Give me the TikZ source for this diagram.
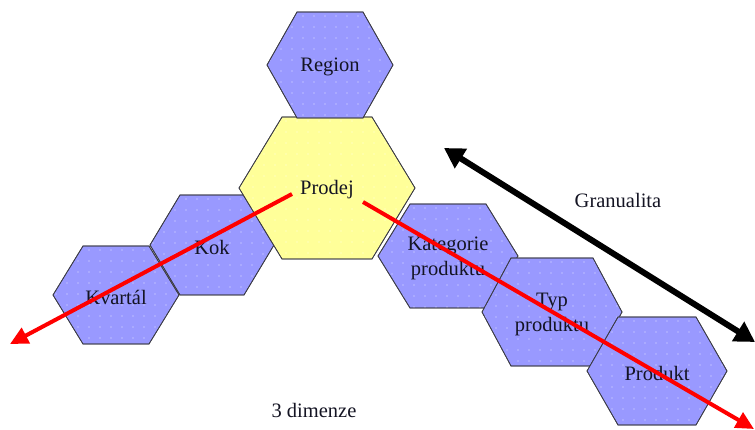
\documentclass[tikz,border=0pt]{standalone}
\usepackage{fontspec}
\setmainfont{Liberation Serif}
\usetikzlibrary{arrows.meta}
\definecolor{hexblue}{RGB}{153,153,255}
\definecolor{hexyellow}{RGB}{255,255,153}
\definecolor{hexedge}{RGB}{60,60,70}
\definecolor{txt}{RGB}{20,20,35}
\tikzset{
  hexst/.style={draw=hexedge, line width=0.7pt},
  lbl/.style={font=\fontsize{20.5}{25}\selectfont, text=txt, align=center, inner sep=0pt},
  redarrow/.style={draw=red, line width=4pt, -{Triangle[length=18pt,width=17pt]}},
  blackarrow/.style={draw=black, line width=6pt, {Triangle[length=20pt,width=22pt]}-{Triangle[length=20pt,width=22pt]}},
}
% name, cx, cy, rx, ry, tx, fill
\newcommand\hexa[7]{%
  \path[hexst, fill=#7] ({#2-#4},#3) -- ({#2-#6},{#3-#5}) -- ({#2+#6},{#3-#5}) -- ({#2+#4},#3) -- ({#2+#6},{#3+#5}) -- ({#2-#6},{#3+#5}) -- cycle;
  \begin{scope}
    \clip ({#2-#4},#3) -- ({#2-#6},{#3-#5}) -- ({#2+#6},{#3-#5}) -- ({#2+#4},#3) -- ({#2+#6},{#3+#5}) -- ({#2-#6},{#3+#5}) -- cycle;
    \foreach \i in {0,...,16}{\foreach \j in {0,...,13}{%
      \fill[white, opacity=0.75] ({#2-#4+3+\i*11},{#3-#5+4+\j*11}) circle (0.6pt);}}
  \end{scope}
  \path[hexst] ({#2-#4},#3) -- ({#2-#6},{#3-#5}) -- ({#2+#6},{#3-#5}) -- ({#2+#4},#3) -- ({#2+#6},{#3+#5}) -- ({#2-#6},{#3+#5}) -- cycle;
  \coordinate (#1) at (#2,#3);
}
\begin{document}
\begin{tikzpicture}[x=1pt,y=-1pt]
  \useasboundingbox (0,0) rectangle (755,430);
  \hexa{hkvartal}{116}{295}{63}{49}{33}{hexblue}
  \hexa{hkok}{212}{245}{62}{50}{32}{hexblue}
  \hexa{hprodej}{327}{188}{88}{71}{45}{hexyellow}
  \hexa{hregion}{330}{65}{63}{53}{33}{hexblue}
  \hexa{hkat}{448}{256}{70}{52}{38}{hexblue}
  \hexa{htyp}{552}{312}{70}{54}{41}{hexblue}
  \hexa{hprodukt}{657}{371}{70}{54}{39}{hexblue}

  \node[lbl] (region) at (330,67) {Region};
  \node[lbl] (prodej) at (327,190) {Prodej};
  \node[lbl] (kok) at (212,247) {Kok};
  \node[lbl] (kvartal) at (116,297) {Kvartál};
  \node[lbl] (kat) at (448,258) {Kategorie\\produktu};
  \node[lbl] (typ) at (552,314) {Typ\\produktu};
  \node[lbl] (produkt) at (657,373) {Produkt};
  \node[lbl] (gran) at (618,200) {Granualita};
  \node[lbl] (dim) at (314,410) {3 dimenze};

  \coordinate (lstart) at (292,194);
  \coordinate (lend) at (10,344);
  \coordinate (rstart) at (363,202);
  \coordinate (rend) at (754,429);
  \coordinate (gtop) at (444,148);
  \coordinate (gbot) at (755,342);

  \draw[redarrow] (lstart) -- (lend);
  \draw[redarrow] (rstart) -- (rend);
  \draw[blackarrow] (gtop) -- (gbot);
\end{tikzpicture}
\end{document}
